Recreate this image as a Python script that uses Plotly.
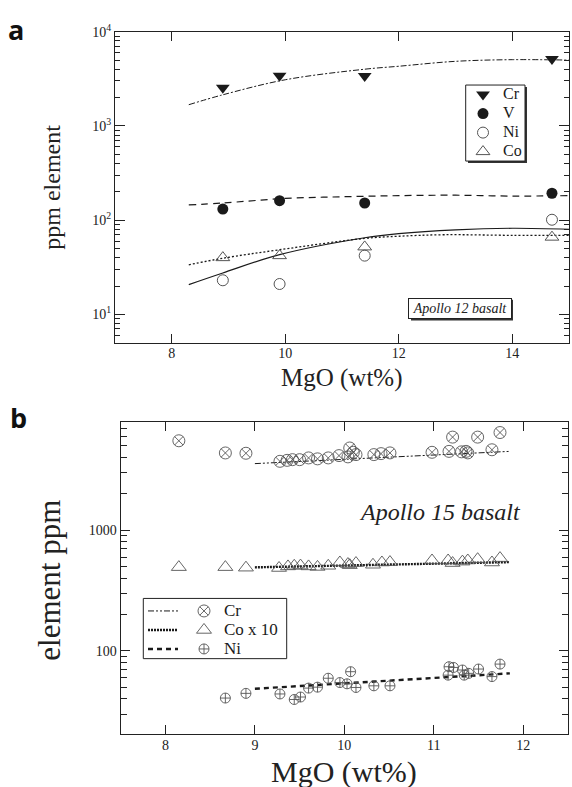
import math
import plotly.graph_objects as go

# ---------------- data: panel a (Apollo 12 basalt) ----------------
a_mgo = [8.9, 9.9, 11.4, 14.7]
a_cr = [2550, 3400, 3390, 5130]
a_v = [131, 161, 152, 193]
a_ni = [23, 21, 42, 101]
a_co = [40, 42, 52, 66]

# model curves
a_cr_curve_x = [8.3, 8.9, 10.0, 11.4, 12.0, 13.0, 14.0, 15.0]
a_cr_curve_y = [1680, 2140, 3090, 4000, 4300, 4850, 5050, 5000]
a_v_curve_x = [8.3, 8.9, 10.0, 11.0, 12.0, 13.0, 14.0, 15.0]
a_v_curve_y = [145, 152, 170, 177, 182, 184, 180, 182]
a_ni_curve_x = [8.3, 8.9, 9.9, 11.4, 12.0, 13.0, 14.0, 15.0]
a_ni_curve_y = [20.7, 27.5, 43, 65, 72, 79, 82, 80]
a_co_curve_x = [8.3, 8.9, 9.9, 11.4, 12.0, 12.8, 14.0, 15.0]
a_co_curve_y = [33.6, 39.4, 48.5, 64, 67.5, 70, 69, 69]

a_xticks = [8, 10, 12, 14]
a_yticks = [10, 100, 1000, 10000]
a_yticktext = ["10<sup>1</sup>", "10<sup>2</sup>", "10<sup>3</sup>", "10<sup>4</sup>"]

# ---------------- data: panel b (Apollo 15 basalt) ----------------
b_cr_mgo = [8.15, 8.67, 8.90, 9.28, 9.36, 9.42, 9.50, 9.60, 9.70, 9.82, 9.94, 10.04, 10.06,
            10.10, 10.13, 10.33, 10.41, 10.51, 10.98, 11.17, 11.21, 11.31, 11.36, 11.38,
            11.49, 11.65, 11.74]
b_cr = [5520, 4375, 4350, 3730, 3800, 3850, 3850, 3980, 3910, 3980, 4160, 4060, 4810,
        4430, 4240, 4240, 4320, 4380, 4430, 4510, 5920, 4470, 4510, 4380, 5920, 4650, 6460]

b_co_mgo = [8.15, 8.67, 8.90, 9.27, 9.37, 9.44, 9.51, 9.60, 9.70, 9.82, 9.95, 10.04, 10.06,
            10.13, 10.32, 10.42, 10.51, 10.98, 11.16, 11.21, 11.32, 11.38, 11.49, 11.65, 11.74]
b_co10 = [495, 495, 490, 487, 502, 508, 510, 502, 497, 508, 541, 525, 514, 535, 518, 541,
          545, 562, 562, 535, 550, 562, 576, 541, 588]

b_ni_mgo = [8.67, 8.90, 9.28, 9.44, 9.51, 9.60, 9.70, 9.82, 9.95, 10.03, 10.07, 10.13, 10.33,
            10.51, 11.16, 11.17, 11.22, 11.32, 11.34, 11.39, 11.50, 11.65, 11.74]
b_ni = [40.7, 44.5, 44, 39.6, 41.5, 49.2, 50.1, 59.4, 54.7, 53.4, 67.3, 49.8, 51.4, 51.4,
        63, 74, 73, 69.5, 63, 65.2, 70.8, 61.3, 77.8]

b_fit_mgo = [9.0, 11.85]
b_cr_fit = [3570, 4510]
b_co_fit = [493, 545]
b_ni_fit = [48.6, 65.2]

b_xticks = [8, 9, 10, 11, 12]
b_yticks = [100, 1000]
b_yticktext = ["100", "1000"]

# ---------------- layout helpers ----------------
W, H = 572, 787
def px(x):
    return x / W
def py(y):
    return 1 - y / H

SERIF = "Liberation Serif, Times New Roman, Times, serif"
SANS = "Open Sans, Noto Sans, Arial, sans-serif"
INK = "#1a1a1a"
MK = "#555555"

fig = go.Figure()

# ---- panel a curves
fig.add_trace(go.Scatter(x=a_cr_curve_x, y=a_cr_curve_y, mode="lines", line_shape="spline",
                         line=dict(color=INK, width=1, dash="6px,2px,2px,2px"),
                         showlegend=False, xaxis="x", yaxis="y"))
fig.add_trace(go.Scatter(x=a_v_curve_x, y=a_v_curve_y, mode="lines", line_shape="spline",
                         line=dict(color=INK, width=1.2, dash="7px,5px"),
                         showlegend=False, xaxis="x", yaxis="y"))
fig.add_trace(go.Scatter(x=a_ni_curve_x, y=a_ni_curve_y, mode="lines", line_shape="spline",
                         line=dict(color=INK, width=1.2),
                         showlegend=False, xaxis="x", yaxis="y"))
fig.add_trace(go.Scatter(x=a_co_curve_x, y=a_co_curve_y, mode="lines", line_shape="spline",
                         line=dict(color=INK, width=1.3, dash="2px,2px"),
                         showlegend=False, xaxis="x", yaxis="y"))

def lg(t, size=16):
    return "<span style='font-size:%dpx'>%s</span>" % (size, t)

# ---- panel a markers
fig.add_trace(go.Scatter(x=a_mgo, y=a_cr, mode="markers", name=lg("Cr"),
                         marker=dict(symbol="triangle-down", size=12, color=INK),
                         xaxis="x", yaxis="y", legend="legend"))
fig.add_trace(go.Scatter(x=a_mgo, y=a_v, mode="markers", name=lg("V"),
                         marker=dict(symbol="circle", size=11, color=INK),
                         xaxis="x", yaxis="y", legend="legend"))
fig.add_trace(go.Scatter(x=a_mgo, y=a_ni, mode="markers", name=lg("Ni"),
                         marker=dict(symbol="circle-open", size=11, color=MK, line=dict(width=1)),
                         xaxis="x", yaxis="y", legend="legend"))
fig.add_trace(go.Scatter(x=a_mgo, y=a_co, mode="markers", name=lg("Co"),
                         marker=dict(symbol="triangle-up-open", size=12, color=MK, line=dict(width=1)),
                         xaxis="x", yaxis="y", legend="legend"))

# ---- panel b fit lines (legend2: line samples only)
fig.add_trace(go.Scatter(x=b_fit_mgo, y=b_cr_fit, mode="lines", name=" ",
                         line=dict(color=INK, width=1, dash="6px,2px,2px,2px,2px,2px"),
                         xaxis="x2", yaxis="y2", legend="legend2"))
fig.add_trace(go.Scatter(x=b_fit_mgo, y=b_co_fit, mode="lines", name=" ",
                         line=dict(color=INK, width=2.4, dash="2px,1px"),
                         xaxis="x2", yaxis="y2", legend="legend2"))
fig.add_trace(go.Scatter(x=b_fit_mgo, y=b_ni_fit, mode="lines", name=" ",
                         line=dict(color=INK, width=2.4, dash="5px,4px"),
                         xaxis="x2", yaxis="y2", legend="legend2"))

# ---- panel b markers (legend3)
fig.add_trace(go.Scatter(x=b_cr_mgo, y=b_cr, mode="markers", name=lg("Cr", 17),
                         marker=dict(symbol="circle-x-open", size=12, color=MK, line=dict(width=0.9)),
                         xaxis="x2", yaxis="y2", legend="legend3"))
fig.add_trace(go.Scatter(x=b_co_mgo, y=b_co10, mode="markers", name=lg("Co x 10", 17),
                         marker=dict(symbol="triangle-up-open", size=13, color=MK, line=dict(width=0.9)),
                         xaxis="x2", yaxis="y2", legend="legend3"))
fig.add_trace(go.Scatter(x=b_ni_mgo, y=b_ni, mode="markers", name=lg("Ni", 17),
                         marker=dict(symbol="circle-cross-open", size=10, color=MK, line=dict(width=0.9)),
                         xaxis="x2", yaxis="y2", legend="legend3"))

tickfont = dict(family=SERIF, size=14, color="#222")

def minor_vals(lo, hi):
    vals = []
    for e in range(lo, hi):
        for m in range(2, 10):
            vals.append(m * 10 ** e)
    return vals

axis_common = dict(showline=True, linecolor="#222", linewidth=1.2, mirror="allticks",
                   ticks="inside", tickcolor="#222", showgrid=False, zeroline=False,
                   tickfont=tickfont)

fig.update_layout(
    width=W, height=H,
    margin=dict(l=0, r=0, t=0, b=0),
    paper_bgcolor="white", plot_bgcolor="white",
    font=dict(family=SERIF),
    xaxis=dict(domain=[px(115), px(569)], range=[7, 15], tickmode="array", tickvals=a_xticks,
               ticklen=9, tickwidth=1.2, anchor="y", ticklabelstandoff=-3, **axis_common),
    yaxis=dict(domain=[py(337), py(22)], type="log", range=[math.log10(5), 4], tickmode="array",
               tickvals=a_yticks, ticktext=a_yticktext, ticklen=10, tickwidth=1.2, anchor="x",
               minor=dict(tickmode="array", tickvals=minor_vals(0, 4), ticks="inside", ticklen=5,
                          tickcolor="#222", tickwidth=1, showgrid=False),
               **axis_common),
    xaxis2=dict(domain=[px(120.7), px(568)], range=[7.5, 12.5], tickmode="array", tickvals=b_xticks,
                ticklen=9, tickwidth=1.2, anchor="y2", ticklabelstandoff=-2, **axis_common),
    yaxis2=dict(domain=[py(733.3), py(417.3)], type="log", range=[math.log10(20.5), math.log10(7900)],
                tickmode="array", tickvals=b_yticks, ticktext=b_yticktext, ticklen=9, tickwidth=1.2,
                anchor="x2",
                minor=dict(tickmode="array", tickvals=minor_vals(1, 4), ticks="inside", ticklen=6,
                           tickcolor="#222", tickwidth=1, showgrid=False),
                **axis_common),
    legend=dict(x=px(463), y=py(71), xanchor="left", yanchor="top", bgcolor="rgba(0,0,0,0)",
                borderwidth=0, font=dict(family=SERIF, size=12, color=INK), itemwidth=30),
    legend2=dict(x=px(143), y=py(594), xanchor="left", yanchor="top", bgcolor="rgba(0,0,0,0)",
                 borderwidth=0, font=dict(family=SERIF, size=12, color=INK), itemwidth=30),
    legend3=dict(x=px(184), y=py(594), xanchor="left", yanchor="top", bgcolor="rgba(0,0,0,0)",
                 borderwidth=0, font=dict(family=SERIF, size=12, color=INK), itemwidth=30),
    showlegend=True,
)

# legend boxes (with shadow for panel a)
fig.add_shape(type="rect", xref="paper", yref="paper", x0=px(468), x1=px(527), y0=py(155), y1=py(78),
              fillcolor="#333", line=dict(width=0), layer="above")
fig.add_shape(type="rect", xref="paper", yref="paper", x0=px(465.7), x1=px(525), y0=py(153), y1=py(76),
              fillcolor="white", line=dict(color="#222", width=1), layer="above")
fig.add_shape(type="rect", xref="paper", yref="paper", x0=px(143.3), x1=px(286.7), y0=py(657), y1=py(596),
              fillcolor="white", line=dict(color="#222", width=1), layer="above")
# Apollo 12 label shadow
fig.add_shape(type="rect", xref="paper", yref="paper", x0=px(411), x1=px(513), y0=py(314.5), y1=py(293.5),
              fillcolor="#333", line=dict(width=0), layer="above")

ann = [
    dict(text="<b>a</b>", x=px(16), y=py(20), font=dict(family=SANS, size=27, color="#111")),
    dict(text="<b>b</b>", x=px(18), y=py(413), font=dict(family=SANS, size=27, color="#111")),
    dict(text="ppm element", x=px(52), y=py(180), textangle=-90, font=dict(family=SERIF, size=24, color="#222")),
    dict(text="MgO (wt%)", x=px(342), y=py(373), font=dict(family=SERIF, size=25, color="#222")),
    dict(text="element ppm", x=px(50), y=py(578), textangle=-90, font=dict(family=SERIF, size=31, color="#222")),
    dict(text="MgO (wt%)", x=px(344), y=py(772), font=dict(family=SERIF, size=30, color="#222")),
    dict(text="<i>Apollo 12 basalt</i>", x=px(460), y=py(302), font=dict(family=SERIF, size=14, color="#222"),
         bgcolor="white", bordercolor="#222", borderwidth=1, borderpad=2, width=98),
    dict(text="<i>Apollo 15 basalt</i>", x=px(440), y=py(508), font=dict(family=SERIF, size=24, color="#222")),
]
for a in ann:
    a.update(xref="paper", yref="paper", showarrow=False, xanchor="center", yanchor="middle")
    fig.add_annotation(**a)

fig.write_html("out.html")
